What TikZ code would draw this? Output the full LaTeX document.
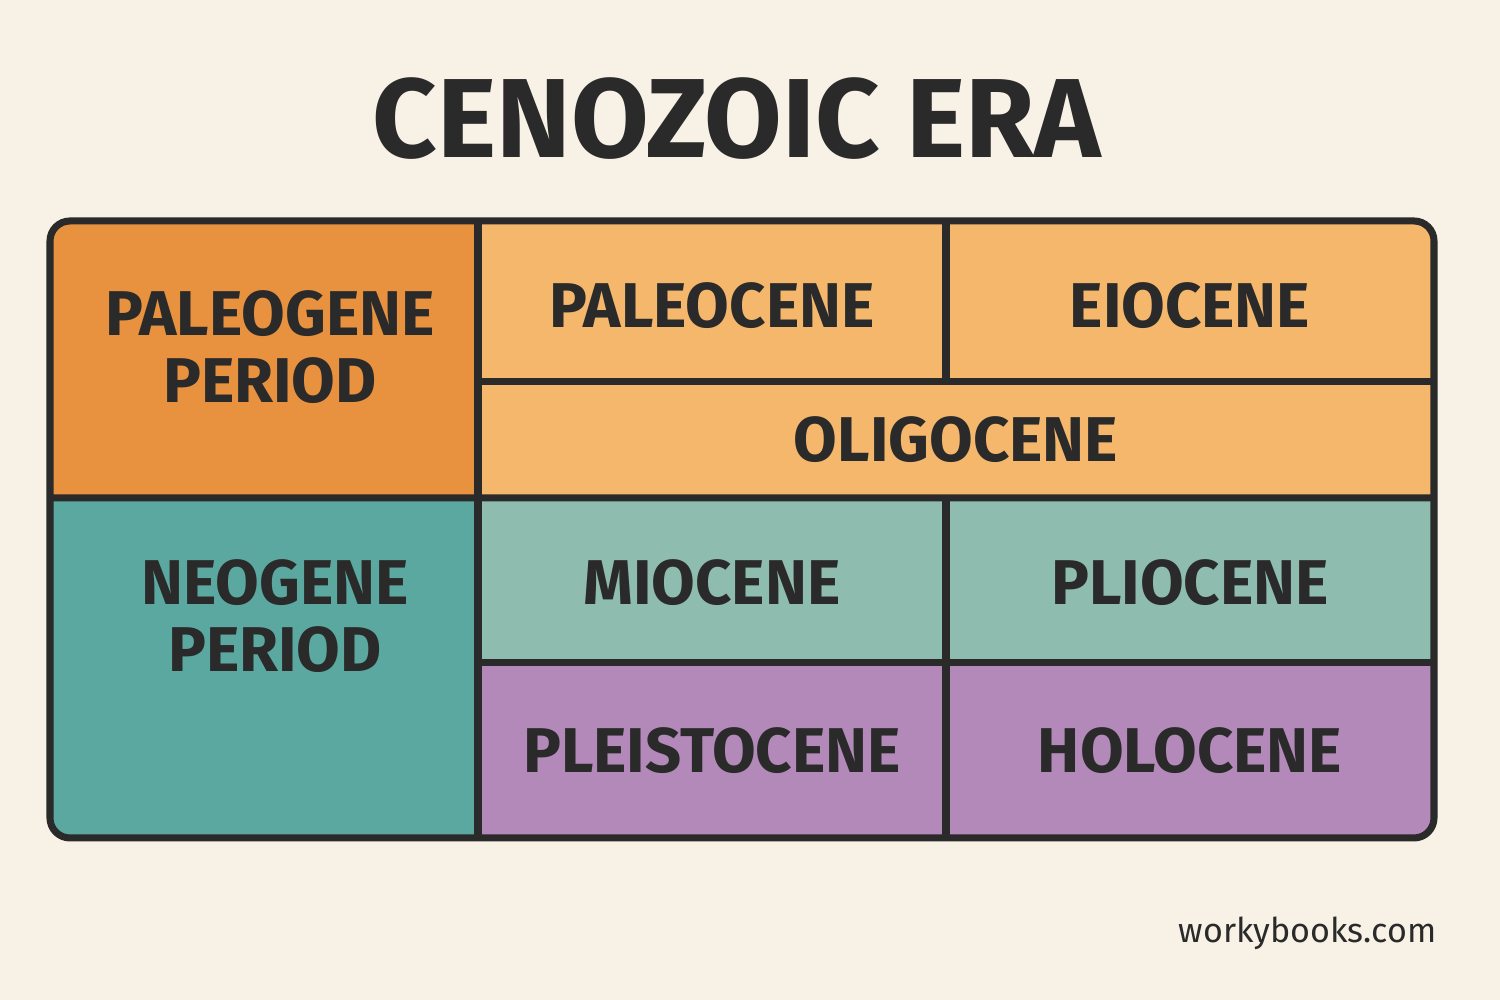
\documentclass[tikz,border=0pt]{standalone}
\usepackage{fontspec}
\setmainfont{Fira Sans}
\usepackage{tikz}
\usetikzlibrary{positioning}
\usepackage{xcolor}

\definecolor{bgcream}{HTML}{F8F1E6}
\definecolor{inkdark}{HTML}{2A2A2A}
\definecolor{paleodark}{HTML}{E8913F}
\definecolor{paleolight}{HTML}{F5B76B}
\definecolor{neodark}{HTML}{5BA8A0}
\definecolor{neolight}{HTML}{8EBDB0}
\definecolor{quatpurple}{HTML}{B389B9}

\newcommand{\lowered}[2]{\raisebox{-#1}{#2}}

\begin{document}
\begin{tikzpicture}
    \tikzstyle{cell}=[shape=rectangle,inner sep=0pt,outer sep=0pt,anchor=north west,text=inkdark,font=\fontsize{18pt}{19pt}\selectfont\bfseries,align=center]
    \tikzstyle{grid}=[draw=inkdark,line width=2pt]

    \useasboundingbox[fill=bgcream] (0,0) rectangle (15,10);

    \node[text=inkdark,font=\fontsize{32pt}{36pt}\selectfont\bfseries] (title) at (7.37,8.81) {CENOZOIC ERA};

    \begin{scope}
    \clip[rounded corners=0.2cm] (0.5,1.62) rectangle (14.34,7.79);
    \node[cell,fill=paleodark,minimum width=4.28cm,minimum height=2.77cm] (PG) at (0.5,7.79) {};
    \node[cell,fill=neodark,minimum width=4.28cm,minimum height=3.40cm] (NG) at (PG.south west) {};
    \node[cell,fill=paleolight,minimum width=4.68cm,minimum height=1.61cm,text depth=0pt] (PC) at (PG.north east) {\lowered{0.07cm}{PALEOCENE}};
    \node[cell,fill=paleolight,minimum width=4.88cm,minimum height=1.61cm,text depth=0pt] (EO) at (PC.north east) {\lowered{0.07cm}{EIOCENE}};
    \node[cell,fill=paleolight,minimum width=9.56cm,minimum height=1.16cm] (OL) at (PC.south west) {OLIGOCENE};
    \node[cell,fill=neolight,minimum width=4.68cm,minimum height=1.65cm,text depth=0pt] (MI) at (OL.south west) {\lowered{0.04cm}{MIOCENE}};
    \node[cell,fill=neolight,minimum width=4.88cm,minimum height=1.65cm,text depth=0pt] (PL) at (MI.north east) {\lowered{0.04cm}{PLIOCENE}};
    \node[cell,fill=quatpurple,minimum width=4.68cm,minimum height=1.75cm] (PS) at (MI.south west) {PLEISTOCENE};
    \node[cell,fill=quatpurple,minimum width=4.88cm,minimum height=1.75cm] (HO) at (PS.north east) {HOLOCENE};
    \end{scope}

    \node[cell,anchor=north] (PGlabel) at ([xshift=0.06cm,yshift=-0.70cm]PG.north) {PALEOGENE\\PERIOD};
    \node[cell,anchor=north] (NGlabel) at ([xshift=0.11cm,yshift=-0.62cm]NG.north) {NEOGENE\\PERIOD};

    % grid lines
    \draw[grid] (PG.north east) -- (NG.south east);
    \draw[grid] (PC.north east) -- (PC.south east);
    \draw[grid] (MI.north east) -- (PS.south east);
    \draw[grid] (PC.south west) -- (EO.south east);
    \draw[grid] (PG.south west) -- (OL.south east);
    \draw[grid] (MI.south west) -- (PL.south east);
    \draw[grid,rounded corners=0.2cm] (PG.north west) rectangle (HO.south east);

    \node[anchor=base east,inner sep=0pt,text=inkdark,font=\fontsize{9.7pt}{12pt}\selectfont] (site) at (14.37,0.57) {workybooks.com};
\end{tikzpicture}
\end{document}
